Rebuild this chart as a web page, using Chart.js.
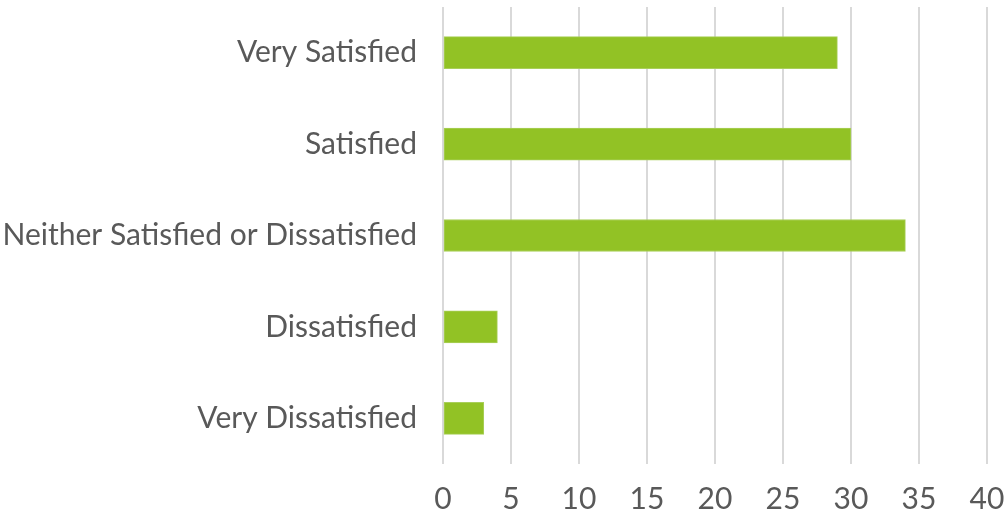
<!DOCTYPE html>
<html>
<head>
<meta charset="utf-8">
<script src="https://cdn.jsdelivr.net/npm/chart.js@4/dist/chart.umd.min.js"></script>
<style>
  html, body { margin: 0; padding: 0; background: #fff; }
  #wrap { width: 1004px; height: 515px; position: relative; }
</style>
</head>
<body>
<div id="wrap"><canvas id="chart"></canvas></div>
<script>
var categories = ['Very Satisfied', 'Satisfied', 'Neither Satisfied or Dissatisfied', 'Dissatisfied', 'Very Dissatisfied'];
var counts = [29, 30, 34, 4, 3];
var xTicks = [0, 5, 10, 15, 20, 25, 30, 35, 40];

var labelFont = { family: 'Lato, "Open Sans", sans-serif', size: 30 };

new Chart(document.getElementById('chart'), {
    type: 'bar',
    data: {
        labels: categories,
        datasets: [{
            data: counts,
            backgroundColor: '#92C225',
            borderColor: '#A9CF5A',
            borderWidth: 1,
            borderSkipped: false,
            barThickness: 32
        }]
    },
    options: {
        indexAxis: 'y',
        responsive: true,
        maintainAspectRatio: false,
        animation: false,
        layout: { padding: { top: 7, right: 17, left: 0, bottom: 0 } },
        plugins: {
            legend: { display: false },
            tooltip: { enabled: false }
        },
        scales: {
            x: {
                min: 0,
                max: 40,
                afterBuildTicks: function (axis) {
                    axis.ticks = xTicks.map(function (v) { return { value: v }; });
                },
                afterFit: function (axis) {
                    axis.height = 51;
                    axis.paddingLeft = 0;
                    axis.paddingRight = 0;
                },
                ticks: { font: labelFont, color: '#595959', padding: 17, maxRotation: 0 },
                grid: { color: '#D9D9D9', lineWidth: 2, drawTicks: false },
                border: { display: false }
            },
            y: {
                afterFit: function (axis) {
                    axis.width = 443;
                    axis.paddingTop = 0;
                    axis.paddingBottom = 0;
                },
                ticks: { font: labelFont, color: '#595959', padding: 18 },
                grid: { display: false },
                border: { display: false }
            }
        }
    }
});
</script>
</body>
</html>
